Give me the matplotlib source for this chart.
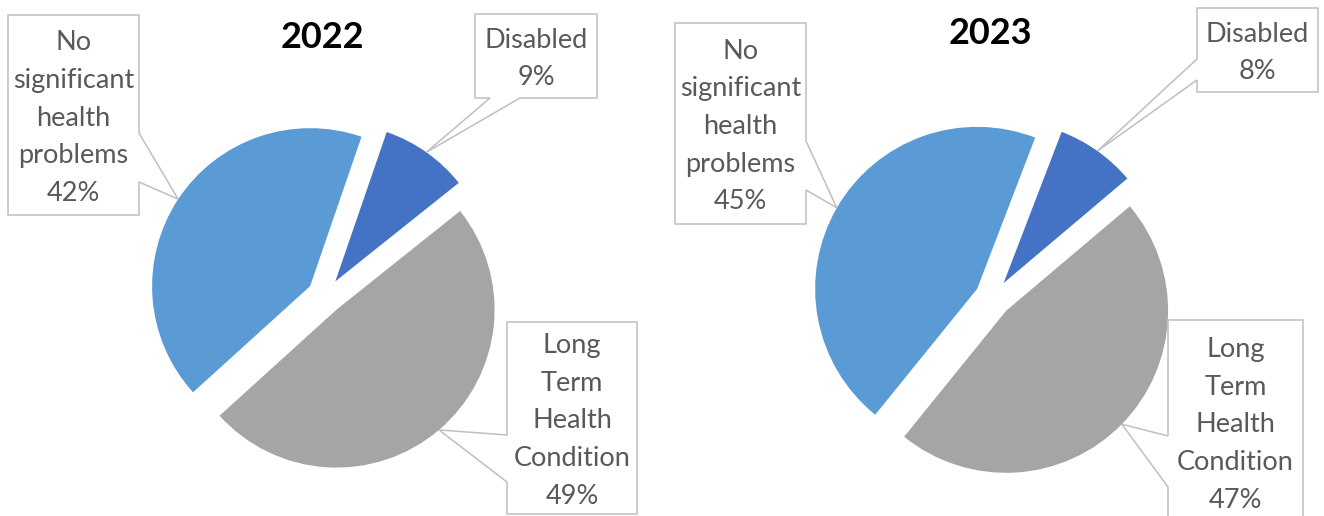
import matplotlib
matplotlib.use("Agg")
import matplotlib.pyplot as plt
from matplotlib.patches import Polygon
import numpy as np

# ---- data -------------------------------------------------------------
categories = ["Disabled", "Long Term Health Condition", "No significant health problems"]
wrapped_names = ["Disabled", "Long\nTerm\nHealth\nCondition", "No\nsignificant\nhealth\nproblems"]
years = ["2022", "2023"]
shares_2022 = [9, 49, 42]
shares_2023 = [8, 47, 45]
slice_colors = ["#4472C4", "#A5A5A5", "#5B9BD5"]

# ---- layout (pixel units, y measured downward from the top) -----------
W, H = 1324, 516
panels = [
    dict(year=years[0], shares=shares_2022, center=(325, 296), radius=158,
         first_angle=19, title_xy=(322, 37),
         boxes=[(475, 14, 597, 98, "bottom", 490, 520),
                (507, 322, 637, 514, "left", 435, 482),
                (8, 15, 139, 215, "right", 133, 182)]),
    dict(year=years[1], shares=shares_2023, center=(993, 298), radius=162,
         first_angle=21, title_xy=(990, 33),
         boxes=[(1197, 8, 1318, 92, "left", 59, 80),
                (1168, 320, 1303, 524, "left", 436, 487),
                (675, 23, 806, 224, "right", 141, 190)]),
]
explode_frac = 0.113
text_shift = 3  # nudge label blocks down a little inside their boxes

plt.rcParams["font.family"] = ["Lato", "DejaVu Sans"]
fig = plt.figure(figsize=(W / 100, H / 100), dpi=100)
ax = fig.add_axes([0, 0, 1, 1])


def flip(y):
    return H - y


def callout(box, tip):
    x0, y0, x1, y1, side, a, b = box
    tx, ty = tip
    pts = [(x0, flip(y0)), (x1, flip(y0))]
    if side == "right":
        pts += [(x1, flip(a)), (tx, ty), (x1, flip(b))]
    pts += [(x1, flip(y1))]
    if side == "bottom":
        pts += [(b, flip(y1)), (tx, ty), (a, flip(y1))]
    pts += [(x0, flip(y1))]
    if side == "left":
        pts += [(x0, flip(b)), (tx, ty), (x0, flip(a))]
    poly = Polygon(pts, closed=True, facecolor="white", edgecolor="#BFBFBF",
                   linewidth=1.1, zorder=3, joinstyle="miter")
    ax.add_patch(poly)


for p in panels:
    cx, cy = p["center"]
    r = p["radius"]
    wedges, _ = ax.pie(p["shares"], colors=slice_colors, center=(cx, flip(cy)),
                       radius=r, startangle=90 - p["first_angle"],
                       counterclock=False,
                       explode=[explode_frac * r] * len(p["shares"]),
                       wedgeprops=dict(linewidth=0), frame=True)
    for w, box, name, val in zip(wedges, p["boxes"], wrapped_names, p["shares"]):
        mid = np.deg2rad(0.5 * (w.theta1 + w.theta2))
        wx, wy = w.center
        tip = (wx + w.r * np.cos(mid), wy + w.r * np.sin(mid))
        callout(box, tip)
        x0, y0, x1, y1 = box[:4]
        ax.text((x0 + x1) / 2, flip((y0 + y1) / 2 + text_shift), f"{name}\n{val}%",
                ha="center", va="center", multialignment="center",
                fontsize=19.5, color="#595959", linespacing=1.63, zorder=4)
    tx, ty = p["title_xy"]
    ax.text(tx, flip(ty), p["year"], ha="center", va="center",
            fontsize=26, fontweight="bold", color="black")

ax.set_xlim(0, W)
ax.set_ylim(0, H)
ax.set_aspect("equal")
ax.axis("off")
fig.savefig("out.png", dpi=100, facecolor="white")
